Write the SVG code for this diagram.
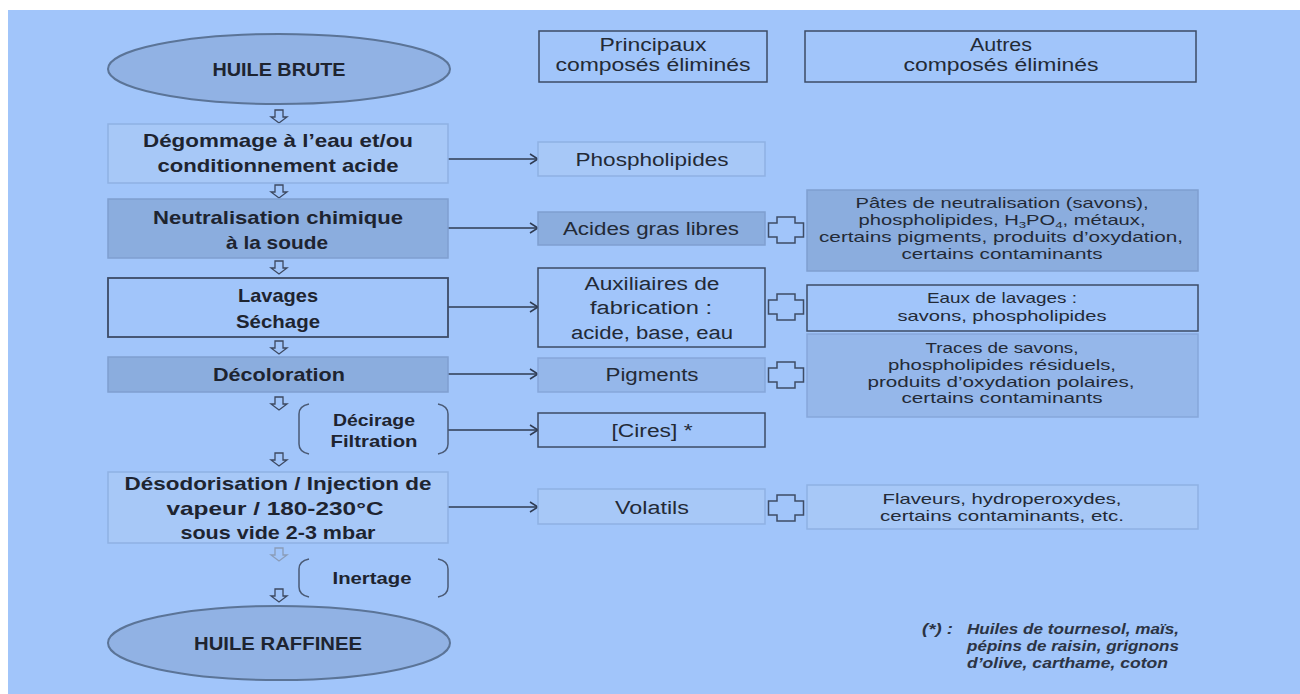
<svg xmlns="http://www.w3.org/2000/svg" width="1300" height="694" viewBox="0 0 1300 694">
<defs>
<style>
.b{font-family:"Liberation Sans","Open Sans",sans-serif;font-weight:bold;font-size:18.5px;fill:#1e2430;text-anchor:middle}
.m{font-family:"Liberation Sans","Open Sans",sans-serif;font-size:18px;fill:#232a36;text-anchor:middle}
.r{font-family:"Liberation Sans","Open Sans",sans-serif;font-size:14.5px;fill:#232a36;text-anchor:middle}
.fn{font-family:"Liberation Sans","Open Sans",sans-serif;font-size:14px;font-style:italic;font-weight:bold;fill:#2c3444}
.dark{fill:#8badde;stroke:#7f9fd0;stroke-width:1.5}
.mid{fill:#95b7ea;stroke:#86a7da;stroke-width:1.5}
.light{fill:#a7c8f7;stroke:#8fb1e3;stroke-width:1.5}
.out{fill:#a1c5fa;stroke:#3c4b66;stroke-width:1.8}
.ell{fill:#91b2e4;stroke:#5b7497;stroke-width:2}
.brk{fill:none;stroke:#4a5a75;stroke-width:1.5}
.plus{fill:none;stroke:#3e4c66;stroke-width:1.5}
.conn{stroke:#2f3b52;stroke-width:1.5;fill:none}
.darr{fill:#a1c5fa;stroke:#3c4860;stroke-width:1.3}
</style>
<marker id="ah" markerWidth="12" markerHeight="12" refX="10" refY="6" orient="auto" markerUnits="userSpaceOnUse">
<path d="M2,1 L10,6 L2,11" fill="none" stroke="#2f3b52" stroke-width="1.5"/>
</marker>
<path id="dn" d="M-4,0 H4 V7 H8 L0,13 L-8,7 H-4 Z"/>
<path id="pl" d="M-9,-13 H9 V-7 H17.5 V7 H9 V13 H-9 V7 H-17.5 V-7 H-9 Z"/>
</defs>
<rect x="0" y="0" width="1300" height="694" fill="#ffffff"/>
<rect x="8" y="10" width="1292" height="684" fill="#a1c5fa"/>

<g id="connectors">
<line class="conn" x1="448" y1="159" x2="538" y2="159" marker-end="url(#ah)"/>
<line class="conn" x1="448" y1="228" x2="538" y2="228" marker-end="url(#ah)"/>
<line class="conn" x1="448" y1="307" x2="538" y2="307" marker-end="url(#ah)"/>
<line class="conn" x1="448" y1="374" x2="538" y2="374" marker-end="url(#ah)"/>
<line class="conn" x1="448" y1="430" x2="538" y2="430" marker-end="url(#ah)"/>
<line class="conn" x1="448" y1="507" x2="538" y2="507" marker-end="url(#ah)"/>
<use href="#dn" class="darr" x="279" y="110"/>
<use href="#dn" class="darr" x="279" y="185"/>
<use href="#dn" class="darr" x="279" y="261"/>
<use href="#dn" class="darr" x="279" y="341"/>
<use href="#dn" class="darr" x="279" y="397"/>
<use href="#dn" class="darr" x="279" y="453"/>
<use href="#dn" class="darr" x="279" y="548" style="stroke:#8a9cb8"/>
<use href="#dn" class="darr" x="279" y="589"/>
<use href="#pl" class="plus" x="786" y="230"/>
<use href="#pl" class="plus" x="786" y="307"/>
<use href="#pl" class="plus" x="786" y="375"/>
<use href="#pl" class="plus" x="786" y="508"/>
</g>

<g id="huile-brute">
<ellipse class="ell" cx="279" cy="69" rx="171" ry="35"/>
<text class="b" x="279" y="76" textLength="133" lengthAdjust="spacingAndGlyphs">HUILE BRUTE</text>
</g>

<g id="degommage">
<rect class="light" x="108" y="124" width="340" height="59"/>
<text class="b" x="278" y="147" textLength="270" lengthAdjust="spacingAndGlyphs">Dégommage à l’eau et/ou</text>
<text class="b" x="278" y="172" textLength="241" lengthAdjust="spacingAndGlyphs">conditionnement  acide</text>
</g>

<g id="neutralisation">
<rect class="dark" x="108" y="199" width="340" height="59"/>
<text class="b" x="278" y="224" textLength="250" lengthAdjust="spacingAndGlyphs">Neutralisation chimique</text>
<text class="b" x="277" y="249" textLength="102" lengthAdjust="spacingAndGlyphs">à la soude</text>
</g>

<g id="lavages">
<rect class="out" x="108" y="278" width="340" height="59"/>
<text class="b" x="278" y="302" textLength="80" lengthAdjust="spacingAndGlyphs">Lavages</text>
<text class="b" x="278" y="328" textLength="84" lengthAdjust="spacingAndGlyphs">Séchage</text>
</g>

<g id="decoloration">
<rect class="dark" x="108" y="357" width="340" height="35"/>
<text class="b" x="279" y="381" textLength="132" lengthAdjust="spacingAndGlyphs">Décoloration</text>
</g>

<g id="decirage">
<path class="brk" d="M309,404 Q299,406 299,414 V444 Q299,452 309,454"/>
<path class="brk" d="M438,404 Q448,406 448,414 V444 Q448,452 438,454"/>
<text class="b" x="374" y="426" style="font-size:17px" textLength="82" lengthAdjust="spacingAndGlyphs">Décirage</text>
<text class="b" x="374" y="447" style="font-size:17px" textLength="87" lengthAdjust="spacingAndGlyphs">Filtration</text>
</g>

<g id="desodorisation">
<rect class="light" x="108" y="472" width="340" height="71"/>
<text class="b" x="278" y="490" textLength="307" lengthAdjust="spacingAndGlyphs">Désodorisation / Injection de</text>
<text class="b" x="275" y="515" textLength="217" lengthAdjust="spacingAndGlyphs">vapeur  / 180-230°C</text>
<text class="b" x="278" y="539" textLength="195" lengthAdjust="spacingAndGlyphs">sous vide 2-3 mbar</text>
</g>

<g id="inertage">
<path class="brk" d="M309,559 Q299,561 299,569 V587 Q299,595 309,597"/>
<path class="brk" d="M438,559 Q448,561 448,569 V587 Q448,595 438,597"/>
<text class="b" x="372" y="584" style="font-size:17px" textLength="79" lengthAdjust="spacingAndGlyphs">Inertage</text>
</g>

<g id="huile-raffinee">
<ellipse class="ell" cx="279" cy="643" rx="171" ry="37"/>
<text class="b" x="278" y="650" textLength="168" lengthAdjust="spacingAndGlyphs">HUILE RAFFINEE</text>
</g>

<g id="header-principaux">
<rect class="out" x="539" y="31" width="228" height="51" style="stroke-width:1.5"/>
<text class="m" x="653" y="51" textLength="107" lengthAdjust="spacingAndGlyphs">Principaux</text>
<text class="m" x="653" y="71" textLength="195" lengthAdjust="spacingAndGlyphs">composés éliminés</text>
</g>

<g id="header-autres">
<rect class="out" x="805" y="31" width="391" height="51" style="stroke-width:1.5"/>
<text class="m" x="1001" y="51" textLength="62" lengthAdjust="spacingAndGlyphs">Autres</text>
<text class="m" x="1001" y="71" textLength="195" lengthAdjust="spacingAndGlyphs">composés éliminés</text>
</g>

<g id="phospholipides">
<rect class="light" x="538" y="142" width="227" height="34"/>
<text class="m" x="652" y="166" textLength="153" lengthAdjust="spacingAndGlyphs">Phospholipides</text>
</g>

<g id="acides">
<rect class="dark" x="538" y="212" width="227" height="33"/>
<text class="m" x="651" y="235" textLength="176" lengthAdjust="spacingAndGlyphs">Acides gras libres</text>
</g>

<g id="auxiliaires">
<rect class="out" x="538" y="268" width="227" height="79" style="stroke-width:1.5"/>
<text class="m" x="652" y="290" textLength="135" lengthAdjust="spacingAndGlyphs">Auxiliaires de</text>
<text class="m" x="651" y="314" textLength="122" lengthAdjust="spacingAndGlyphs">fabrication :</text>
<text class="m" x="652" y="339" textLength="162" lengthAdjust="spacingAndGlyphs">acide, base, eau</text>
</g>

<g id="pigments">
<rect class="mid" x="538" y="358" width="227" height="34"/>
<text class="m" x="652" y="381" textLength="93" lengthAdjust="spacingAndGlyphs">Pigments</text>
</g>

<g id="cires">
<rect class="out" x="538" y="413" width="227" height="34" style="stroke-width:1.5"/>
<text class="m" x="652" y="437" textLength="81" lengthAdjust="spacingAndGlyphs">[Cires]  *</text>
</g>

<g id="volatils">
<rect class="light" x="538" y="489" width="227" height="35"/>
<text class="m" x="652" y="514" textLength="74" lengthAdjust="spacingAndGlyphs">Volatils</text>
</g>

<g id="pates">
<rect class="dark" x="807" y="190" width="391" height="81"/>
<text class="r" x="1002" y="208" textLength="293" lengthAdjust="spacingAndGlyphs">Pâtes de neutralisation (savons),</text>
<text class="r" x="1002" y="225" textLength="287" lengthAdjust="spacingAndGlyphs">phospholipides, H<tspan font-size="9.5" dy="3">3</tspan><tspan dy="-3">PO</tspan><tspan font-size="9.5" dy="3">4</tspan><tspan dy="-3">, métaux,</tspan></text>
<text class="r" x="1001" y="242" textLength="364" lengthAdjust="spacingAndGlyphs">certains pigments,  produits d’oxydation,</text>
<text class="r" x="1002" y="259" textLength="201" lengthAdjust="spacingAndGlyphs">certains contaminants</text>
</g>

<g id="eaux">
<rect class="out" x="807" y="285" width="391" height="46" style="stroke-width:1.5"/>
<text class="r" x="1002" y="303" textLength="150" lengthAdjust="spacingAndGlyphs">Eaux de lavages :</text>
<text class="r" x="1002" y="321" textLength="209" lengthAdjust="spacingAndGlyphs">savons, phospholipides</text>
</g>

<g id="traces">
<rect class="mid" x="807" y="334" width="391" height="83"/>
<text class="r" x="1002" y="353" textLength="153" lengthAdjust="spacingAndGlyphs">Traces de savons,</text>
<text class="r" x="1002" y="370" textLength="228" lengthAdjust="spacingAndGlyphs">phospholipides résiduels,</text>
<text class="r" x="1001" y="387" textLength="267" lengthAdjust="spacingAndGlyphs">produits d’oxydation polaires,</text>
<text class="r" x="1002" y="403" textLength="201" lengthAdjust="spacingAndGlyphs">certains contaminants</text>
</g>

<g id="flaveurs">
<rect class="light" x="807" y="485" width="391" height="44"/>
<text class="r" x="1002" y="504" textLength="239" lengthAdjust="spacingAndGlyphs">Flaveurs, hydroperoxydes,</text>
<text class="r" x="1002" y="521" textLength="244" lengthAdjust="spacingAndGlyphs">certains contaminants, etc.</text>
</g>

<g id="footnote">
<text class="fn" x="922" y="634" textLength="31" lengthAdjust="spacingAndGlyphs">(*) :</text>
<text class="fn" x="967" y="634" textLength="212" lengthAdjust="spacingAndGlyphs">Huiles de tournesol, maïs,</text>
<text class="fn" x="967" y="651" textLength="212" lengthAdjust="spacingAndGlyphs">pépins de raisin, grignons</text>
<text class="fn" x="967" y="668" textLength="201" lengthAdjust="spacingAndGlyphs">d’olive, carthame,  coton</text>
</g>
</svg>
